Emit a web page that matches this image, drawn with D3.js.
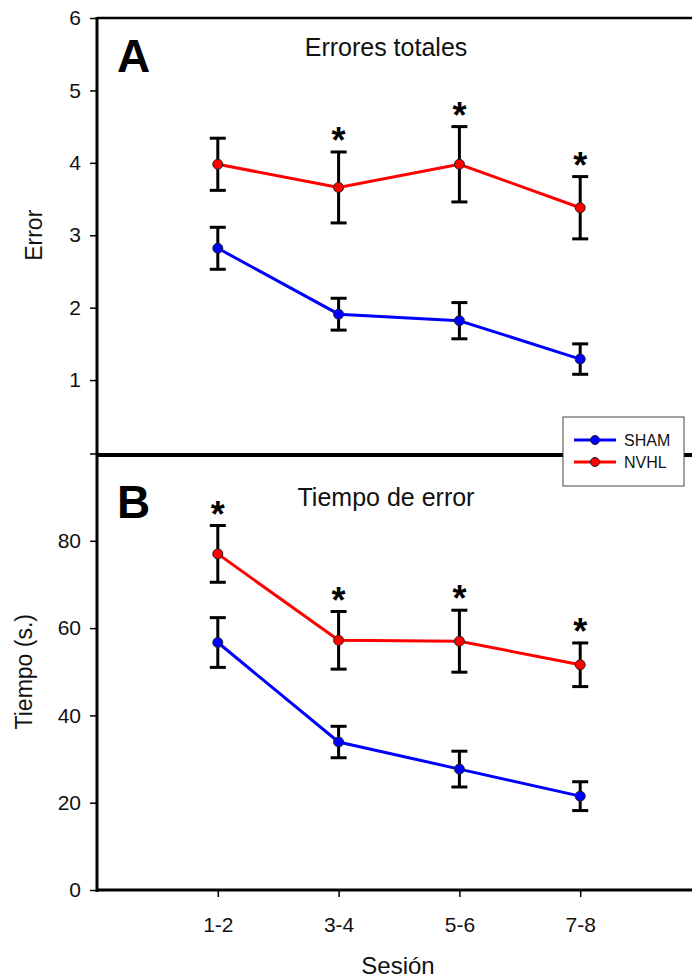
<!DOCTYPE html>
<html>
<head>
<meta charset="utf-8">
<script src="https://cdn.jsdelivr.net/npm/d3@7"></script>
<style>
  html, body { margin: 0; padding: 0; background: #fff; }
  svg { display: block; font-family: Arial, "Liberation Sans", sans-serif; }
</style>
</head>
<body>
<svg id="chart" width="692" height="979"></svg>
<script>
// Sessions (paired)
const sessions = ["1-2", "3-4", "5-6", "7-8"];

// Panel A: total errors (mean ± SE)
const errShamMean = [2.82, 1.91, 1.82, 1.29];
const errShamSE   = [0.29, 0.22, 0.25, 0.21];
const errNvhlMean = [3.98, 3.66, 3.98, 3.38];
const errNvhlSE   = [0.36, 0.49, 0.52, 0.43];
const errSig      = [false, true, true, true];
const errTicks    = [1, 2, 3, 4, 5, 6];

// Panel B: error time in seconds (mean ± SE)
const timeShamMean = [56.7, 33.9, 27.7, 21.5];
const timeShamSE   = [5.7, 3.6, 4.1, 3.3];
const timeNvhlMean = [77.0, 57.2, 57.0, 51.6];
const timeNvhlSE   = [6.5, 6.6, 7.1, 5.0];
const timeSig      = [true, true, true, true];
const timeTicks    = [0, 20, 40, 60, 80, 100];

const groups = [
  { name: "SHAM", color: "#0000ff" },
  { name: "NVHL", color: "#ff0000" }
];

const FONT = "Arial, 'Liberation Sans', sans-serif";
const svg = d3.select("#chart");
const left = 97, right = 701;
const x = d3.scaleLinear().domain([0, 5]).range([left, right]);

const yA = d3.scaleLinear().domain([0, 6]).range([452.5, 18]);
const yB = d3.scaleLinear().domain([0, 100]).range([890, 453.5]);

function drawPanel(y, ticks, series, sig, title, letter, letterY, titleY, ylabel, ylabelX) {
  const g = svg.append("g");

  // y axis with outward ticks; the top tick of panel B carries no label
  const ax = g.append("g")
    .attr("transform", `translate(${left},0)`)
    .call(d3.axisLeft(y).tickValues(ticks).tickSize(7).tickPadding(9)
      .tickFormat(d => d === 100 ? "" : d3.format("d")(d)));
  ax.select(".domain").remove();
  ax.selectAll(".tick line").attr("stroke", "#000").attr("stroke-width", 1.5);
  ax.selectAll(".tick text").attr("font-size", 21).attr("fill", "#111").attr("font-family", FONT);

  // panel label and title
  g.append("text").attr("x", 117).attr("y", letterY)
    .attr("font-size", 46).attr("font-weight", "bold").text(letter);
  g.append("text").attr("x", 386).attr("y", titleY)
    .attr("text-anchor", "middle").attr("font-size", 25).attr("fill", "#111").text(title);

  // y label
  const mid = (y.range()[0] + y.range()[1]) / 2;
  g.append("text")
    .attr("transform", `translate(${ylabelX},${mid}) rotate(-90)`)
    .attr("text-anchor", "middle").attr("font-size", 23).attr("fill", "#111").text(ylabel);

  const line = d3.line().x((d, i) => x(i + 1)).y(d => y(d));

  series.forEach(s => {
    // connecting line
    g.append("path").datum(s.mean)
      .attr("d", line).attr("fill", "none")
      .attr("stroke", s.color).attr("stroke-width", 3);

    // error bars
    const eb = g.append("g");
    s.mean.forEach((m, i) => {
      const cx = x(i + 1);
      const top = y(m + s.se[i]), bot = y(m - s.se[i]);
      eb.append("line").attr("x1", cx).attr("x2", cx).attr("y1", top).attr("y2", bot)
        .attr("stroke", "#000").attr("stroke-width", 3);
      [top, bot].forEach(yy => eb.append("line")
        .attr("x1", cx - 8).attr("x2", cx + 8).attr("y1", yy).attr("y2", yy)
        .attr("stroke", "#000").attr("stroke-width", 3));
    });

    // markers
    g.selectAll(null).data(s.mean).enter().append("circle")
      .attr("cx", (d, i) => x(i + 1)).attr("cy", d => y(d)).attr("r", 5)
      .attr("fill", s.color).attr("stroke", "#222").attr("stroke-width", 1);
  });

  // significance asterisks above the upper (NVHL) error bar
  const upper = series[1];
  sig.forEach((flag, i) => {
    if (!flag) return;
    const top = y(upper.mean[i] + upper.se[i]);
    g.append("text").attr("x", x(i + 1)).attr("y", top + 1)
      .attr("text-anchor", "middle").attr("font-size", 36).attr("font-weight", "bold").text("*");
  });
}

drawPanel(yA, errTicks,
  [{ mean: errShamMean, se: errShamSE, color: groups[0].color },
   { mean: errNvhlMean, se: errNvhlSE, color: groups[1].color }],
  errSig, "Errores totales", "A", 72, 56, "Error", 42);

drawPanel(yB, timeTicks,
  [{ mean: timeShamMean, se: timeShamSE, color: groups[0].color },
   { mean: timeNvhlMean, se: timeNvhlSE, color: groups[1].color }],
  timeSig, "Tiempo de error", "B", 518, 506, "Tiempo (s.)", 32);

// frame: left axis, top border, panel divider
const frame = svg.append("g").attr("stroke", "#000");
frame.append("line").attr("x1", left).attr("x2", left).attr("y1", 17).attr("y2", 892).attr("stroke-width", 3);
frame.append("line").attr("x1", left).attr("x2", 692).attr("y1", yA(6)).attr("y2", yA(6)).attr("stroke-width", 2.5);
frame.append("line").attr("x1", left).attr("x2", 692).attr("y1", 455).attr("y2", 455).attr("stroke-width", 4);

// x axis
const xa = svg.append("g").attr("transform", "translate(0,890)")
  .call(d3.axisBottom(x).tickValues([1, 2, 3, 4]).tickSize(7).tickPadding(20)
    .tickFormat(d => sessions[d - 1]));
xa.select(".domain").attr("d", `M${left},0H692`).attr("stroke", "#000").attr("stroke-width", 3);
xa.selectAll(".tick line").attr("stroke", "#000").attr("stroke-width", 1.5);
xa.selectAll(".tick text").attr("font-size", 21).attr("fill", "#111").attr("font-family", FONT);

svg.append("text").attr("x", 398).attr("y", 974).attr("text-anchor", "middle")
  .attr("font-size", 24).attr("fill", "#111").text("Sesión");

// legend
const lg = svg.append("g").attr("transform", "translate(563,417)");
lg.append("rect").attr("width", 121).attr("height", 69)
  .attr("fill", "#fff").attr("stroke", "#444").attr("stroke-width", 1);
groups.forEach((gr, i) => {
  const yy = 23 + i * 22;
  lg.append("line").attr("x1", 11).attr("x2", 53).attr("y1", yy).attr("y2", yy)
    .attr("stroke", gr.color).attr("stroke-width", 3);
  lg.append("circle").attr("cx", 32).attr("cy", yy).attr("r", 4.5)
    .attr("fill", gr.color).attr("stroke", "#222").attr("stroke-width", 1);
  lg.append("text").attr("x", 61).attr("y", yy + 6).attr("font-size", 16).attr("fill", "#111").text(gr.name);
});
</script>
</body>
</html>
